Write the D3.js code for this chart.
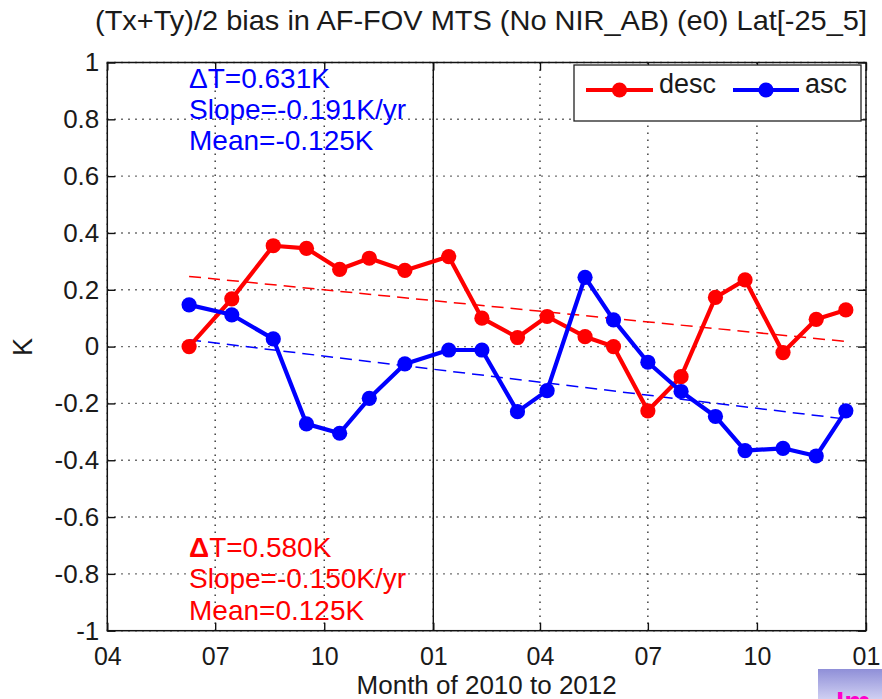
<!DOCTYPE html>
<html><head><meta charset="utf-8">
<script src="https://cdn.jsdelivr.net/npm/d3@7"></script>
<style>
body{margin:0;background:#fff}
svg{display:block}
text{font-family:"Liberation Sans",Arial,Helvetica,sans-serif;fill:#1a1a1a}
</style>
</head><body>
<svg id="c" width="882" height="699"></svg>
<script>
// ---- data ----
const dates = ["2010-06-09","2010-07-15","2010-08-19","2010-09-16","2010-10-14","2010-11-08","2010-12-08",
  "2011-01-14","2011-02-11","2011-03-13","2011-04-07","2011-05-09","2011-06-02","2011-07-01",
  "2011-07-29","2011-08-27","2011-09-21","2011-10-23","2011-11-20","2011-12-15"];
const descValues = [0.000,0.168,0.355,0.346,0.272,0.311,0.268,0.317,0.100,0.032,0.106,0.035,0.000,-0.226,-0.106,0.173,0.235,-0.021,0.096,0.129];
const ascValues  = [0.147,0.112,0.027,-0.272,-0.305,-0.182,-0.061,-0.012,-0.012,-0.229,-0.155,0.244,0.094,-0.055,-0.158,-0.246,-0.366,-0.358,-0.385,-0.226];
const descTrend = [0.247, 0.018];
const ascTrend  = [0.024, -0.255];
const xTickDates  = ["2010-04-01","2010-07-01","2010-10-01","2011-01-01","2011-04-01","2011-07-01","2011-10-01","2012-01-01"];
const xTickLabels = ["04","07","10","01","04","07","10","01"];
const yTicks      = [-1,-0.8,-0.6,-0.4,-0.2,0,0.2,0.4,0.6,0.8,1];
const yTickLabels = ["-1","-0.8","-0.6","-0.4","-0.2","0","0.2","0.4","0.6","0.8","1"];
const seriesNames = ["desc","asc"];
const seriesColors = ["#ff0000","#0000ff"];
const ascStats  = ["T=0.631K","Slope=-0.191K/yr","Mean=-0.125K"];
const descStats = ["T=0.580K","Slope=-0.150K/yr","Mean=0.125K"];
const yearSplit = "2011-01-01";
const titleText = "(Tx+Ty)/2 bias in AF-FOV MTS (No NIR_AB) (e0) Lat[-25_5]";
const xLabelText = "Month of 2010 to 2012";
const yLabelText = "K";

// ---- layout ----
const parse = d3.utcParse("%Y-%m-%d");
const L = 107.3, R = 866, T = 62.5, B = 630.7;
const svg = d3.select("#c");
const x = d3.scaleUtc().domain([parse(xTickDates[0]), parse(xTickDates[xTickDates.length-1])]).range([L, R]);
const y = d3.scaleLinear().domain([-1, 1]).range([B, T]);

// grid
const g = svg.append("g");
const tickD = xTickDates.map(parse);
g.selectAll(".gx").data(tickD).join("line")
  .attr("x1", d => x(d)).attr("x2", d => x(d)).attr("y1", T).attr("y2", B)
  .attr("stroke", "#333").attr("stroke-width", 1.4).attr("stroke-dasharray", "1.4,5.6");
g.selectAll(".gy").data(yTicks).join("line")
  .attr("y1", d => y(d)).attr("y2", d => y(d)).attr("x1", L).attr("x2", R)
  .attr("stroke", "#333").attr("stroke-width", 1.4).attr("stroke-dasharray", "1.4,5.6");

// year split line
svg.append("line").attr("x1", x(parse(yearSplit))).attr("x2", x(parse(yearSplit)))
  .attr("y1", T).attr("y2", B).attr("stroke", "#111").attr("stroke-width", 1.4);

// axes
const fmtX = (d, i) => xTickLabels[i];
const fmtY = (d, i) => yTickLabels[i];
const axB = svg.append("g").attr("transform", `translate(0,${B})`)
  .call(d3.axisBottom(x).tickValues(tickD).tickFormat(fmtX).tickSizeInner(-8).tickSizeOuter(0).tickPadding(17));
const axT = svg.append("g").attr("transform", `translate(0,${T})`)
  .call(d3.axisTop(x).tickValues(tickD).tickFormat("").tickSizeInner(-8).tickSizeOuter(0));
const axL = svg.append("g").attr("transform", `translate(${L},0)`)
  .call(d3.axisLeft(y).tickValues(yTicks).tickFormat(fmtY).tickSizeInner(-8).tickSizeOuter(0).tickPadding(8));
const axR = svg.append("g").attr("transform", `translate(${R},0)`)
  .call(d3.axisRight(y).tickValues(yTicks).tickFormat("").tickSizeInner(-8).tickSizeOuter(0));
[axB, axT, axL, axR].forEach(a => {
  a.select(".domain").remove();
  a.selectAll(".tick line").attr("stroke", "#111").attr("stroke-width", 1.4);
  a.selectAll(".tick text").attr("font-size", 26).attr("fill", "#1a1a1a")
   .style("font-family", '"Liberation Sans",Arial,Helvetica,sans-serif');
});
axB.selectAll(".tick text").attr("font-size", 25);
// frame
svg.append("rect").attr("x", L).attr("y", T).attr("width", R - L).attr("height", B - T)
  .attr("fill", "none").attr("stroke", "#111").attr("stroke-width", 1.5);

// trend lines
const td = [parse(dates[0]), parse(dates[dates.length - 1])];
[descTrend, ascTrend].forEach((tr, k) => {
  svg.append("line").attr("x1", x(td[0])).attr("y1", y(tr[0])).attr("x2", x(td[1])).attr("y2", y(tr[1]))
    .attr("stroke", seriesColors[k]).attr("stroke-width", 1.5).attr("stroke-dasharray", "12,7");
});

// series
const line = d3.line().x(d => x(d.date)).y(d => y(d.v));
[descValues, ascValues].forEach((vals, k) => {
  const pts = vals.map((v, i) => ({date: parse(dates[i]), v}));
  svg.append("path").datum(pts).attr("d", line).attr("fill", "none")
    .attr("stroke", seriesColors[k]).attr("stroke-width", 4.2).attr("stroke-linejoin", "round");
  svg.append("g").selectAll("circle").data(pts).join("circle")
    .attr("cx", d => x(d.date)).attr("cy", d => y(d.v)).attr("r", 7.6).attr("fill", seriesColors[k]);
});

// stats annotations
function stats(lines, color, x0, y0, boldDelta) {
  lines.forEach((s, i) => {
    const t = svg.append("text").attr("x", x0).attr("y", y0 + i * 31.3).attr("font-size", 28)
      .style("fill", color);
    if (i === 0) {
      t.append("tspan").text("Δ").attr("font-weight", boldDelta ? "bold" : "normal");
      t.append("tspan").text(s);
    } else t.text(s);
  });
}
stats(ascStats, "#0000ff", 189, 87.5, false);
stats(descStats, "#ff0000", 189, 557, true);

// legend
const lg = svg.append("g");
lg.append("rect").attr("x", 574).attr("y", 65).attr("width", 287).attr("height", 56)
  .attr("fill", "#fff").attr("stroke", "#222").attr("stroke-width", 1.3);
const legPos = [{x1: 586, x2: 653, tx: 659}, {x1: 733, x2: 799, tx: 805}];
seriesNames.forEach((n, k) => {
  const p = legPos[k];
  lg.append("line").attr("x1", p.x1).attr("x2", p.x2).attr("y1", 90).attr("y2", 90)
    .attr("stroke", seriesColors[k]).attr("stroke-width", 4.2);
  lg.append("circle").attr("cx", (p.x1 + p.x2) / 2).attr("cy", 90).attr("r", 7.6).attr("fill", seriesColors[k]);
  lg.append("text").attr("x", p.tx).attr("y", 92.5).attr("font-size", 27).text(n);
});

// titles
svg.append("text").attr("x", 95).attr("y", 29.5).attr("font-size", 28)
  .attr("textLength", 772).attr("lengthAdjust", "spacingAndGlyphs").text(titleText);
svg.append("text").attr("x", (L + R) / 2).attr("y", 694).attr("text-anchor", "middle").attr("font-size", 26).text(xLabelText);
svg.append("text").attr("transform", `translate(32,347) rotate(-90)`).attr("text-anchor", "middle")
  .attr("font-size", 27).text(yLabelText);

// slide artifact bottom-right
const defs = svg.append("defs");
const gr = defs.append("linearGradient").attr("id", "pg").attr("x1", 0).attr("y1", 0).attr("x2", 0).attr("y2", 1);
gr.append("stop").attr("offset", "0").attr("stop-color", "#8f8fd8");
gr.append("stop").attr("offset", "1").attr("stop-color", "#cfcff2");
svg.append("rect").attr("x", 818).attr("y", 669).attr("width", 64).attr("height", 30).attr("fill", "url(#pg)");
svg.append("text").attr("x", 836).attr("y", 712).attr("font-size", 30).attr("font-weight", "bold")
  .style("fill", "#ff00cc").text("Im");
</script>
</body></html>
